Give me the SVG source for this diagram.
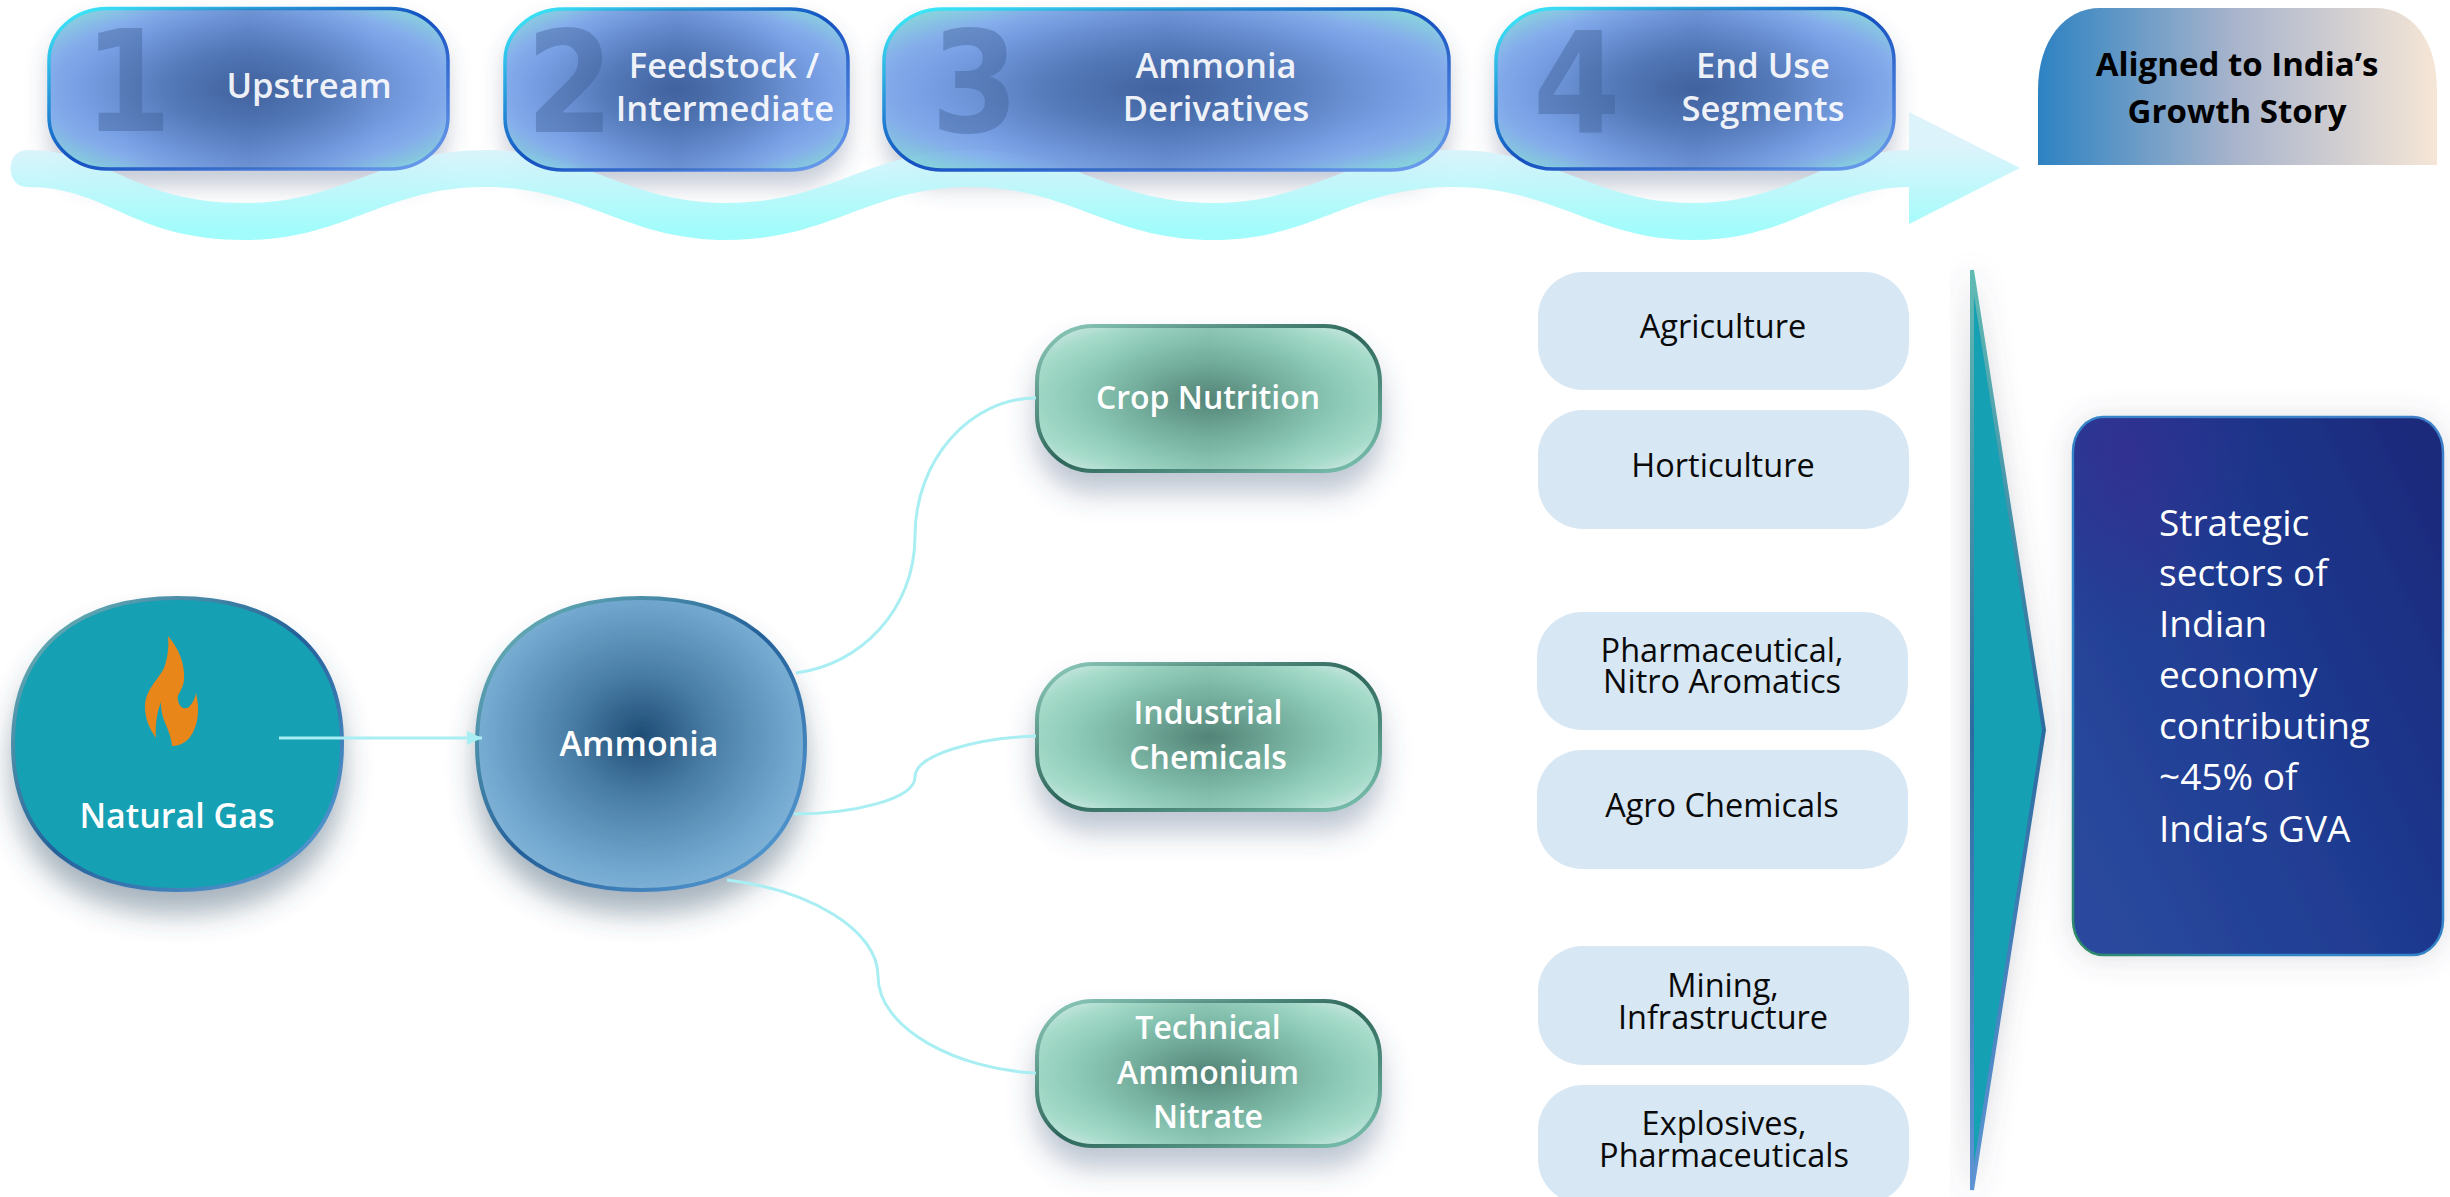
<svg xmlns="http://www.w3.org/2000/svg" width="2450" height="1197" viewBox="0 0 2450 1197">
<style>
text{font-family:"Open Sans","Liberation Sans",sans-serif;text-anchor:middle}
.h{font-size:34.5px;font-weight:600;fill:#fff}
.n{font-size:34px;font-weight:600;fill:#fff}
.g{font-size:32px;font-weight:600;fill:#fff}
.p{font-size:32.5px;font-weight:400;fill:#0a0a0a}
.b{font-size:33px;font-weight:700;fill:#000}
.s{font-size:37px;font-weight:400;fill:#fff;text-anchor:start}
.num{font-family:"DejaVu Sans Condensed","DejaVu Sans",sans-serif;font-stretch:condensed;font-size:140px;font-weight:700;fill:#3f5f94;fill-opacity:.42;text-anchor:start}
.hb{fill:url(#hf);stroke:url(#hs);stroke-width:3.5}
.hv{fill:url(#hv)}
.gb{fill:url(#gf);stroke:url(#gs);stroke-width:4;filter:url(#sh)}
.gv{fill:url(#gv)}
.pill{fill:#d7e7f4}
.blob{stroke:url(#bs);stroke-width:4;filter:url(#sh2)}
.c{fill:none;stroke:#a8eef2;stroke-width:3}
</style>
<defs>
<radialGradient id="hf" cx=".5" cy=".5" r=".72"><stop offset="0" stop-color="#3c609e"/><stop offset=".3" stop-color="#5079bd"/><stop offset=".6" stop-color="#729ce6"/><stop offset=".72" stop-color="#7eaaec"/><stop offset=".9" stop-color="#80d2d8"/></radialGradient>
<linearGradient id="hv" x1="0" y1="0" x2="1" y2="0"><stop offset=".18" stop-color="#2f5090" stop-opacity="0"/><stop offset=".5" stop-color="#2f5090" stop-opacity=".28"/><stop offset=".82" stop-color="#2f5090" stop-opacity="0"/></linearGradient>
<linearGradient id="hs" x1="0" y1="0" x2="1" y2="1"><stop offset="0" stop-color="#3ff2fb"/><stop offset=".5" stop-color="#1450c0"/><stop offset="1" stop-color="#6f9fee"/></linearGradient>
<radialGradient id="gf" cx=".5" cy=".5" r=".72"><stop offset="0" stop-color="#57877a"/><stop offset=".3" stop-color="#76b09f"/><stop offset=".55" stop-color="#8ecbb8"/><stop offset=".75" stop-color="#a6dbca"/><stop offset=".95" stop-color="#dcecec"/></radialGradient>
<linearGradient id="gv" x1="0" y1="0" x2="1" y2="0"><stop offset=".2" stop-color="#3f7466" stop-opacity="0"/><stop offset=".5" stop-color="#3f7466" stop-opacity=".16"/><stop offset=".8" stop-color="#3f7466" stop-opacity="0"/></linearGradient>
<linearGradient id="gs" x1="0" y1="0" x2="1" y2="1"><stop offset="0" stop-color="#90cdbd"/><stop offset=".5" stop-color="#2d665a"/><stop offset="1" stop-color="#7ec4b2"/></linearGradient>
<linearGradient id="bs" x1="0" y1="0" x2="1" y2="1"><stop offset="0" stop-color="#72bcb8"/><stop offset=".5" stop-color="#24609a"/><stop offset="1" stop-color="#5ea4dc"/></linearGradient>
<radialGradient id="am" cx=".5" cy=".47" r=".62"><stop offset="0" stop-color="#1f4d76"/><stop offset=".35" stop-color="#4a7ea6"/><stop offset=".75" stop-color="#72a8cf"/><stop offset="1" stop-color="#8dbbde"/></radialGradient>
<linearGradient id="rib" gradientUnits="userSpaceOnUse" x1="0" y1="146" x2="0" y2="232"><stop offset="0" stop-color="#dcf3fb"/><stop offset="1" stop-color="#9dfcfb"/></linearGradient>
<linearGradient id="gold" x1="0" y1="0" x2="1" y2="0"><stop offset="0" stop-color="#2d82c2"/><stop offset=".5" stop-color="#aab5cc"/><stop offset="1" stop-color="#f6e6d6"/></linearGradient>
<linearGradient id="ts" x1="0" y1="0" x2="0" y2="1"><stop offset="0" stop-color="#62bcb4"/><stop offset=".5" stop-color="#2c6ca0"/><stop offset="1" stop-color="#5e94d4"/></linearGradient>
<linearGradient id="db" x1="0" y1=".85" x2="1" y2=".15"><stop offset="0" stop-color="#2a4a9e"/><stop offset=".55" stop-color="#1e3a90"/><stop offset="1" stop-color="#1a2a7c"/></linearGradient>
<radialGradient id="dp" cx=".15" cy=".06" r=".36"><stop offset="0" stop-color="#3a2a90" stop-opacity=".65"/><stop offset="1" stop-color="#3a2a90" stop-opacity="0"/></radialGradient>
<linearGradient id="ds" x1="1" y1="0" x2="0" y2="1"><stop offset="0" stop-color="#3f7fc8"/><stop offset=".75" stop-color="#2f86c8"/><stop offset="1" stop-color="#2f8a60"/></linearGradient>
<filter id="sh" x="-20%" y="-20%" width="140%" height="170%"><feDropShadow dx="0" dy="20" stdDeviation="14" flood-color="#44587c" flood-opacity=".35"/></filter>
<filter id="sh2" x="-20%" y="-20%" width="140%" height="150%"><feDropShadow dx="0" dy="22" stdDeviation="14" flood-color="#3c566e" flood-opacity=".45"/></filter>
<filter id="sh3" x="-30%" y="-10%" width="160%" height="120%"><feDropShadow dx="-2" dy="4" stdDeviation="14" flood-color="#505a6e" flood-opacity=".28"/></filter>
<filter id="sh4" x="-20%" y="-15%" width="140%" height="130%"><feDropShadow dx="0" dy="2" stdDeviation="14" flood-color="#505a6e" flood-opacity=".2"/></filter>
<filter id="blur" x="-20%" y="-30%" width="140%" height="170%"><feGaussianBlur stdDeviation="11"/></filter>
<marker id="ah" markerUnits="userSpaceOnUse" markerWidth="16" markerHeight="16" refX="15" refY="7" orient="auto"><path d="M0,0L15,7L0,14Z" fill="#a8eef2"/></marker>
</defs>

<g id="header-shadows" filter="url(#blur)" fill="#46597f" fill-opacity=".3">
<rect x="48" y="22" width="400" height="165" rx="58" ry="52"/>
<rect x="504" y="22" width="345" height="165" rx="58" ry="52"/>
<rect x="883" y="22" width="567" height="165" rx="58" ry="52"/>
<rect x="1495" y="22" width="400" height="165" rx="58" ry="52"/>
</g>

<path id="ribbon" fill="url(#rib)" fill-opacity=".96" d="M27,150C110,150 130,203 245,203C345,203 385,150 485,150C585,150 625,203 727,203C830,203 870,150 970,150C1070,150 1110,203 1213,203C1315,203 1350,150 1453,150C1555,150 1595,203 1694,203C1790,203 1830,150 1909,150L1909,112L2020,168L1909,224L1909,187C1830,187 1790,240 1694,240C1595,240 1555,187 1453,187C1350,187 1315,240 1213,240C1110,240 1070,187 970,187C870,187 830,240 727,240C625,240 585,187 485,187C385,187 345,240 245,240C130,240 110,187 27,187C5,187 5,150 27,150Z"/>

<g id="step-1" fill-opacity=".92"><rect class="hb" x="49" y="8.5" width="399" height="160.5" rx="58" ry="52"/><rect class="hv" x="49" y="8.5" width="399" height="160.5" rx="58" ry="52"/><text class="num" x="84" y="131">1</text><text class="h" x="309" y="98">Upstream</text></g>
<g id="step-2" fill-opacity=".92"><rect class="hb" x="505" y="9" width="343" height="161" rx="58" ry="52"/><rect class="hv" x="505" y="9" width="343" height="161" rx="58" ry="52"/><text class="num" x="526" y="132">2</text><text class="h" x="724" y="78">Feedstock /</text><text class="h" x="725" y="121">Intermediate</text></g>
<g id="step-3" fill-opacity=".92"><rect class="hb" x="884" y="9" width="565" height="161" rx="58" ry="52"/><rect class="hv" x="884" y="9" width="565" height="161" rx="58" ry="52"/><text class="num" x="931" y="132">3</text><text class="h" x="1216" y="78">Ammonia</text><text class="h" x="1216" y="121">Derivatives</text></g>
<g id="step-4" fill-opacity=".92"><rect class="hb" x="1496" y="8.5" width="398" height="160.5" rx="58" ry="52"/><rect class="hv" x="1496" y="8.5" width="398" height="160.5" rx="58" ry="52"/><text class="num" x="1533" y="133">4</text><text class="h" x="1763" y="78">End Use</text><text class="h" x="1763" y="121">Segments</text></g>

<g id="growth-story"><path fill="url(#gold)" d="M2038,165V90C2038,40 2065,8 2100,8H2375C2412,8 2437,40 2437,90V165Z"/><text class="b" x="2237" y="76">Aligned to India’s</text><text class="b" x="2237" y="123">Growth Story</text></g>

<g id="natural-gas"><path class="blob" fill="#14a0b4" d="M177,598C268,598 342,640 342,744C342,848 268,890 177,890C86,890 13,848 13,744C13,640 86,598 177,598Z"/>
<path fill="#e8861a" d="M168,636C180,650 185,665 184,680C183,690 176,695 178,700C179,708 185,710 189,707C193,703 195,698 196,693C199,705 199,720 194,730C190,740 182,746 172,746C171,735 167,728 164,720C161,712 161,705 161,702C157,712 155,725 156,738C149,728 145,718 145,707C145,690 158,680 164,668C168,658 169,645 168,636Z"/>
<text class="n" x="177" y="828">Natural Gas</text></g>
<g id="ammonia"><path class="blob" fill="url(#am)" d="M641,598C732,598 805,640 805,744C805,848 732,890 641,890C550,890 477,848 477,744C477,640 550,598 641,598Z"/><text class="n" x="639" y="756">Ammonia</text></g>

<g id="crop-nutrition"><rect class="gb" x="1037" y="326" width="343" height="145" rx="56"/><rect class="gv" x="1037" y="326" width="343" height="145" rx="56"/><text class="g" x="1208" y="409">Crop Nutrition</text></g>
<g id="industrial-chemicals"><rect class="gb" x="1037" y="664" width="343" height="146" rx="56"/><rect class="gv" x="1037" y="664" width="343" height="146" rx="56"/><text class="g" x="1208" y="724">Industrial</text><text class="g" x="1208" y="769">Chemicals</text></g>
<g id="technical-ammonium-nitrate"><rect class="gb" x="1037" y="1001" width="343" height="145" rx="56"/><rect class="gv" x="1037" y="1001" width="343" height="145" rx="56"/><text class="g" x="1208" y="1039">Technical</text><text class="g" x="1208" y="1084">Ammonium</text><text class="g" x="1208" y="1128">Nitrate</text></g>

<g id="connectors">
<path class="c" d="M279,738H482" marker-end="url(#ah)"/>
<path class="c" d="M796,673C860,665 915,610 915,536C915,460 970,398 1036,398"/>
<path class="c" d="M794,814C850,814 915,800 915,777C915,755 975,738 1036,736"/>
<path class="c" d="M727,880C810,890 878,930 878,976C878,1030 960,1070 1036,1073"/>
</g>

<g id="agriculture"><rect class="pill" x="1538" y="272" width="371" height="118" rx="45"/><text class="p" x="1723" y="338">Agriculture</text></g>
<g id="horticulture"><rect class="pill" x="1538" y="410" width="371" height="119" rx="45"/><text class="p" x="1723" y="477">Horticulture</text></g>
<g id="pharma-nitro"><rect class="pill" x="1537" y="612" width="371" height="118" rx="45"/><text class="p" x="1722" y="662">Pharmaceutical,</text><text class="p" x="1722" y="693">Nitro Aromatics</text></g>
<g id="agro-chemicals"><rect class="pill" x="1537" y="750" width="371" height="119" rx="45"/><text class="p" x="1722" y="817">Agro Chemicals</text></g>
<g id="mining-infrastructure"><rect class="pill" x="1538" y="946" width="371" height="119" rx="45"/><text class="p" x="1723" y="997">Mining,</text><text class="p" x="1723" y="1029">Infrastructure</text></g>
<g id="explosives-pharma"><rect class="pill" x="1538" y="1085" width="371" height="119" rx="45"/><text class="p" x="1724" y="1135">Explosives,</text><text class="p" x="1724" y="1167">Pharmaceuticals</text></g>

<path id="big-arrow" fill="#14a0b4" stroke="url(#ts)" stroke-width="4" filter="url(#sh3)" d="M1972,270L2044,730L1972,1190Z"/>

<g id="strategic"><rect x="2073" y="417" width="370" height="538" rx="30" ry="35" fill="url(#db)" stroke="url(#ds)" stroke-width="2.5" filter="url(#sh4)"/><rect x="2074" y="418" width="368" height="536" rx="30" ry="35" fill="url(#dp)"/>
<text class="s" x="2159" y="536">Strategic</text>
<text class="s" x="2159" y="586">sectors of</text>
<text class="s" x="2159" y="637">Indian</text>
<text class="s" x="2159" y="688">economy</text>
<text class="s" x="2159" y="739">contributing</text>
<text class="s" x="2159" y="790">~45% of</text>
<text class="s" x="2159" y="842">India’s GVA</text>
</g>
</svg>
